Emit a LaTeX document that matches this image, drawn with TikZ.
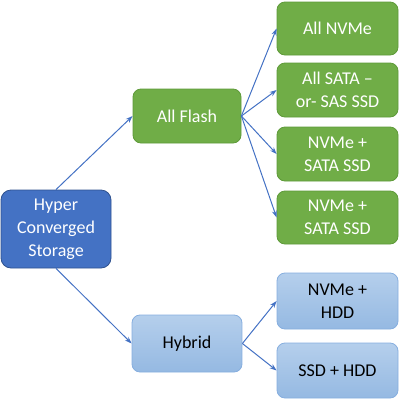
\documentclass[tikz,border=0pt]{standalone}
\usepackage{fontspec}
\setmainfont{Carlito}
\usetikzlibrary{arrows.meta}
\definecolor{rootfill}{HTML}{4472C4}
\definecolor{rootdraw}{HTML}{2F528F}
\definecolor{greenfill}{HTML}{70AD47}
\definecolor{greendraw}{HTML}{5E9A39}
\definecolor{lbtop}{HTML}{B5CFEC}
\definecolor{lbbot}{HTML}{95B9E2}
\definecolor{lbdraw}{HTML}{86AEDF}
\definecolor{arrowblue}{HTML}{4472C4}
\tikzset{
  base/.style={rectangle, inner sep=0pt, line width=0.8pt, align=center,
    font=\fontsize{18}{23}\selectfont},
  rootbox/.style={base, fill=rootfill, draw=rootdraw, text=white, rounded corners=10pt},
  greenbox/.style={base, fill=greenfill, draw=greendraw, text=white, rounded corners=8pt},
  lbbox/.style={base, top color=lbtop, bottom color=lbbot, draw=lbdraw, text=black, rounded corners=8pt},
  conn/.style={draw=arrowblue, line width=1pt, -{Stealth[length=7pt,width=5pt]}}
}
\begin{document}
\begin{tikzpicture}[x=1pt,y=-1pt]
\useasboundingbox (0,0) rectangle (400,400);
\node[rootbox, minimum width=110pt, minimum height=78pt] (root) at (56,229) {Hyper\\Converged\\Storage};
\node[greenbox, minimum width=108pt, minimum height=54pt] (flash) at (187,116) {All Flash};
\node[lbbox, minimum width=110pt, minimum height=57pt] (hybrid) at (187,343.5) {Hybrid};
\node[greenbox, minimum width=121pt, minimum height=53pt] (nvme) at (337.5,28.5) {All NVMe};
\node[greenbox, minimum width=121pt, minimum height=54pt] (sata) at (337.5,90) {All SATA –\\or- SAS SSD};
\node[greenbox, minimum width=121pt, minimum height=54pt] (ns1) at (337.5,154) {NVMe +\\SATA SSD};
\node[greenbox, minimum width=121pt, minimum height=53pt] (ns2) at (337.5,217.5) {NVMe +\\SATA SSD};
\node[lbbox, minimum width=121pt, minimum height=56pt] (nh) at (337.5,301) {NVMe +\\HDD};
\node[lbbox, minimum width=121pt, minimum height=55pt] (sh) at (337.5,370.5) {SSD + HDD};
\draw[conn] (root.north) -- (flash.west);
\draw[conn] (root.south) -- (hybrid.west);
\draw[conn] (flash.east) -- (nvme.west);
\draw[conn] (flash.east) -- (sata.west);
\draw[conn] (flash.east) -- (ns1.west);
\draw[conn] (flash.east) -- (ns2.west);
\draw[conn] (hybrid.east) -- (nh.west);
\draw[conn] (hybrid.east) -- (sh.west);
\end{tikzpicture}
\end{document}
